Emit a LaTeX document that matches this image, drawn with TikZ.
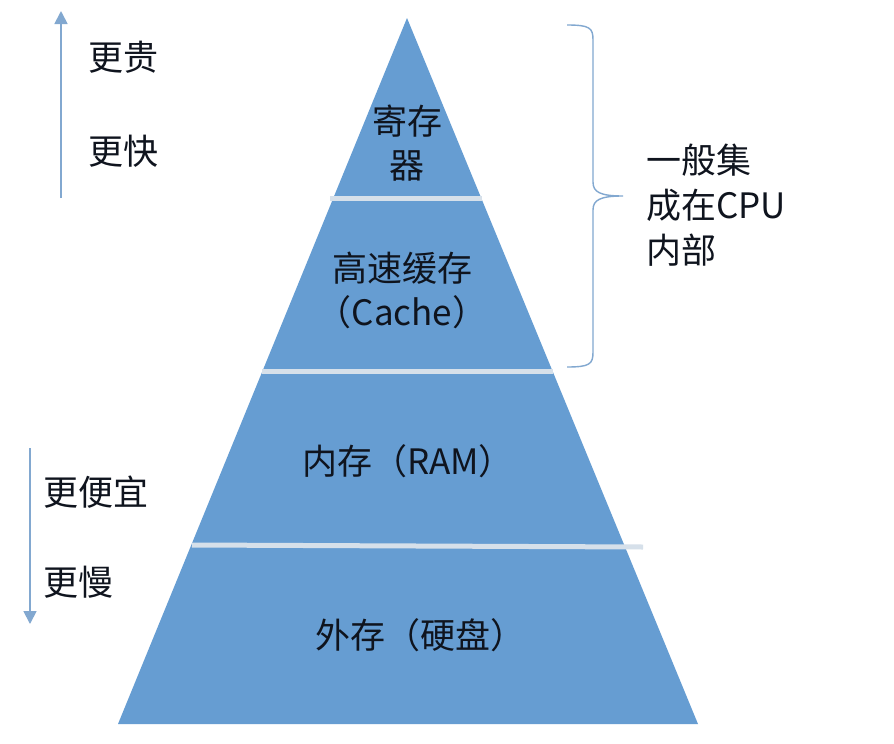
\documentclass[tikz,border=0pt]{standalone}
\usepackage{fontspec}
\setmainfont{Noto Sans CJK SC}
\usetikzlibrary{arrows.meta}
\definecolor{pyrblue}{RGB}{102,157,210}
\definecolor{sepgrey}{RGB}{214,224,234}
\definecolor{arrblue}{RGB}{130,168,208}
\definecolor{txt}{RGB}{15,20,30}
\tikzset{
  lbl/.style={font=\fontsize{35}{44}\selectfont, text=txt, inner sep=0pt, align=center},
  sideLbl/.style={font=\fontsize{35}{44}\selectfont, text=txt, inner sep=0pt, anchor=west},
  sepline/.style={draw=sepgrey, line width=5pt},
  axarrow/.style={draw=arrblue, line width=1.8pt, -{Triangle[length=13pt,width=13pt]}},
  bracestyle/.style={draw=arrblue, line width=1.4pt},
}
\begin{document}
\begin{tikzpicture}[x=1pt,y=-1pt]
\useasboundingbox (0,0) rectangle (894,744);
\fill[white] (0,0) rectangle (894,744);
% pyramid
\coordinate (apex) at (407,18);
\coordinate (bl) at (118,724);
\coordinate (br) at (698,724);
\fill[pyrblue] (apex) -- (br) -- (bl) -- cycle;
% separators
\coordinate (s1l) at (330,198); \coordinate (s1r) at (482,198);
\coordinate (s2l) at (262,371); \coordinate (s2r) at (553,371);
\coordinate (s3l) at (192,545); \coordinate (s3r) at (643,547);
\draw[sepline] (s1l) -- (s1r);
\draw[sepline] (s2l) -- (s2r);
\draw[sepline] (s3l) -- (s3r);
% level labels
\node[lbl] (reg) at (407,143) {寄存\\器};
\node[lbl] (cache) at (402,290) {高速缓存\\（Cache）};
\node[lbl] (ram) at (408,461) {内存（RAM）};
\node[lbl] (disk) at (420,635) {外存（硬盘）};
% left arrows
\coordinate (upS) at (61,198); \coordinate (upE) at (61,11);
\draw[axarrow] (upS) -- (upE);
\coordinate (dnS) at (30,448); \coordinate (dnE) at (30,624);
\draw[axarrow] (dnS) -- (dnE);
\node[sideLbl] (gui) at (88,57) {更贵};
\node[sideLbl] (kuai) at (88,151) {更快};
\node[sideLbl] (pianyi) at (43,492) {更便宜};
\node[sideLbl] (man) at (43,582) {更慢};
% brace
\coordinate (bt) at (567,25);
\coordinate (bb) at (567,367);
\coordinate (btip) at (623,196);
\draw[bracestyle] (bt) .. controls (590,25) and (593,28) .. (593,40)
  -- (593,182) .. controls (593,192) and (600,196) .. (btip)
  .. controls (600,196) and (593,200) .. (593,210)
  -- (593,352) .. controls (593,364) and (590,367) .. (bb);
\node[sideLbl, align=left, font=\fontsize{35}{45}\selectfont] (cpu) at (646,205) {一般集\\成在CPU\\内部};
\end{tikzpicture}
\end{document}
